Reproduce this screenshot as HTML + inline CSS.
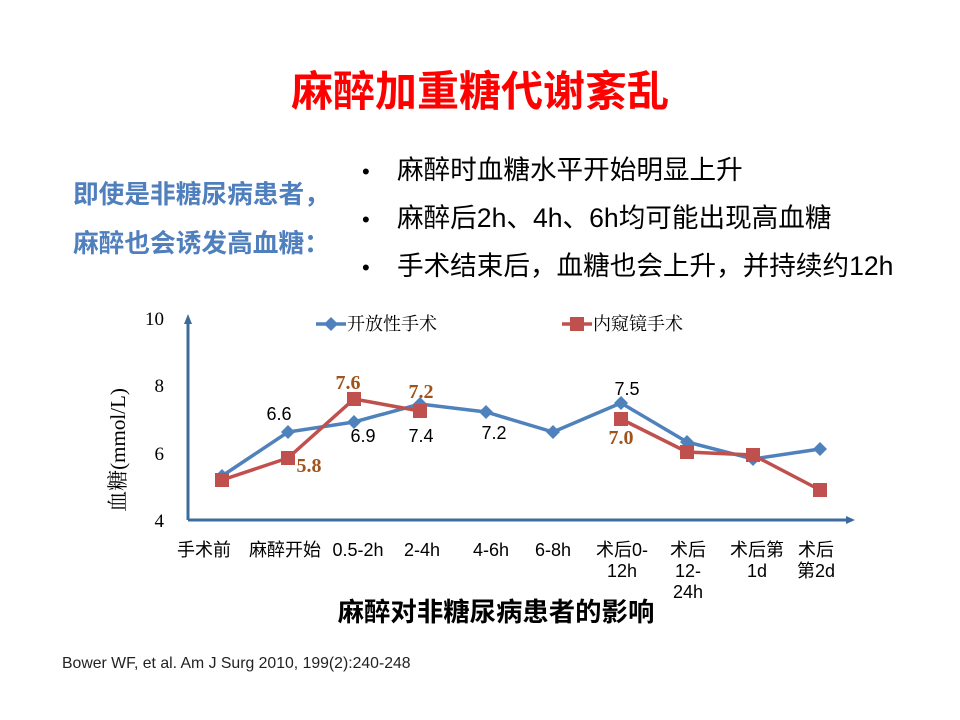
<!DOCTYPE html>
<html><head><meta charset="utf-8"><style>
body{margin:0;width:960px;height:720px;background:#fff;overflow:hidden;position:relative;font-family:"Liberation Sans","Noto Sans CJK SC",sans-serif}
.a{position:absolute;white-space:nowrap}
.b div{height:48px;line-height:48px}
</style></head><body>
<div class="a" style="left:291px;top:58px;font-size:42px;font-weight:bold;color:#ff0000">麻醉加重糖代谢紊乱</div>
<div class="a" style="left:73px;top:171px;font-size:25.7px;font-weight:bold;color:#4f7fbd;line-height:49px">即使是非糖尿病患者，<br>麻醉也会诱发高血糖：</div>
<div class="a b" style="left:362px;top:146px;font-size:26.6px;color:#000">
<div><span style="display:inline-block;width:35px;font-size:22px">•</span>麻醉时血糖水平开始明显上升</div>
<div><span style="display:inline-block;width:35px;font-size:22px">•</span>麻醉后2h、4h、6h均可能出现高血糖</div>
<div><span style="display:inline-block;width:35px;font-size:22px">•</span>手术结束后，血糖也会上升，并持续约12h</div>
</div>
<svg class="a" style="left:0;top:0" width="960" height="720">
<g font-family="Liberation Serif, Noto Serif CJK SC, serif" font-size="19" fill="#000">
<text x="164" y="325" text-anchor="end">10</text>
<text x="164" y="392" text-anchor="end">8</text>
<text x="164" y="460" text-anchor="end">6</text>
<text x="164" y="527" text-anchor="end">4</text>
<text transform="translate(125,450) rotate(-90)" text-anchor="middle" font-size="21">血糖(mmol/L)</text>
</g>
<line x1="188" y1="520" x2="188" y2="322" stroke="#3d6c9c" stroke-width="3"/>
<path d="M184,324 L188,314 L192,324z" fill="#3d6c9c"/>
<line x1="188" y1="520" x2="848" y2="520" stroke="#3d6c9c" stroke-width="3"/>
<path d="M846,516 L855,520 L846,524z" fill="#3d6c9c"/>
<polyline fill="none" stroke="#4f81bd" stroke-width="3.5" points="222,476 288,432 354,422 420,404 486,412 553,432 621,403 687,442 753,459 820,449"/>
<g fill="#4f81bd">
<path d="M222,469 l7,7 -7,7 -7,-7z"/><path d="M288,425 l7,7 -7,7 -7,-7z"/><path d="M354,415 l7,7 -7,7 -7,-7z"/><path d="M420,397 l7,7 -7,7 -7,-7z"/><path d="M486,405 l7,7 -7,7 -7,-7z"/><path d="M553,425 l7,7 -7,7 -7,-7z"/><path d="M621,396 l7,7 -7,7 -7,-7z"/><path d="M687,435 l7,7 -7,7 -7,-7z"/><path d="M753,452 l7,7 -7,7 -7,-7z"/><path d="M820,442 l7,7 -7,7 -7,-7z"/>
</g>
<polyline fill="none" stroke="#c0504d" stroke-width="3.5" points="222,480 288,458 354,399 420,411"/>
<polyline fill="none" stroke="#c0504d" stroke-width="3.5" points="621,419 687,452 753,455 820,490"/>
<g fill="#c0504d">
<rect x="215" y="473" width="14" height="14"/><rect x="281" y="451" width="14" height="14"/><rect x="347" y="392" width="14" height="14"/><rect x="413" y="404" width="14" height="14"/><rect x="614" y="412" width="14" height="14"/><rect x="680" y="445" width="14" height="14"/><rect x="746" y="448" width="14" height="14"/><rect x="813" y="483" width="14" height="14"/>
</g>
<line x1="316" y1="324" x2="346" y2="324" stroke="#4f81bd" stroke-width="3.5"/><path d="M331,317 l7,7 -7,7 -7,-7z" fill="#4f81bd"/>
<text x="347" y="330" font-size="18" font-family="Liberation Serif, Noto Serif CJK SC, serif">开放性手术</text>
<line x1="562" y1="324" x2="592" y2="324" stroke="#c0504d" stroke-width="3.5"/><rect x="570" y="317" width="14" height="14" fill="#c0504d"/>
<text x="593" y="330" font-size="18" font-family="Liberation Serif, Noto Serif CJK SC, serif">内窥镜手术</text>
<g font-size="18" fill="#000" text-anchor="middle">
<text x="279" y="420">6.6</text><text x="363" y="442">6.9</text><text x="421" y="442">7.4</text><text x="494" y="439">7.2</text><text x="627" y="395">7.5</text>
</g>
<g font-size="20" font-weight="bold" fill="#a0541c" font-family="Liberation Serif, serif" text-anchor="middle">
<text x="348" y="389">7.6</text><text x="421" y="398">7.2</text><text x="309" y="472">5.8</text><text x="621" y="444">7.0</text>
</g>
<g font-size="18" fill="#000" text-anchor="middle">
<text x="204" y="556">手术前</text><text x="285" y="556">麻醉开始</text><text x="358" y="556">0.5-2h</text><text x="422" y="556">2-4h</text><text x="491" y="556">4-6h</text><text x="553" y="556">6-8h</text>
<text x="622" y="556">术后0-</text><text x="622" y="577">12h</text>
<text x="688" y="556">术后</text><text x="688" y="577">12-</text><text x="688" y="598">24h</text>
<text x="757" y="556">术后第</text><text x="757" y="577">1d</text>
<text x="816" y="556">术后</text><text x="816" y="577">第2d</text>
</g>
<text x="496" y="621" text-anchor="middle" font-size="26.4" font-weight="bold">麻醉对非糖尿病患者的影响</text>
<text x="62" y="668" font-size="15.8" fill="#222">Bower WF, et al. Am J Surg 2010, 199(2):240-248</text>
</svg>
</body></html>
